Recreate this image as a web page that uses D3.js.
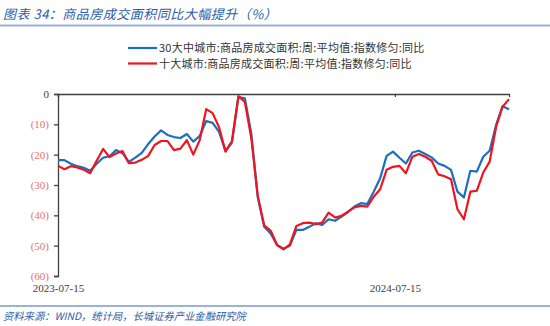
<!DOCTYPE html>
<html><head><meta charset="utf-8">
<script src="https://cdn.jsdelivr.net/npm/d3@7"></script>
<style>
body{margin:0;background:#fff;}
svg{display:block;}
</style></head>
<body><svg id="c" width="550" height="326"></svg>
<script>
const startDate = "2023-07-15";
const tickLabels = ["2023-07-15", "2024-07-15"];
const yTicks = [0, -10, -20, -30, -40, -50, -60];
const seriesNames = ["30大中城市:商品房成交面积:周:平均值:指数修匀:同比", "十大城市:商品房成交面积:周:平均值:指数修匀:同比"];
const blueValues = [-21.8,-21.8,-23,-23.8,-24.3,-25.3,-23,-21,-20.5,-18.5,-19.5,-22.4,-21,-19.4,-16.5,-14,-12,-13.5,-14.2,-14.5,-13.2,-15.7,-13.8,-8.9,-9.5,-12.5,-18.8,-16,-1,-1.4,-13,-34,-43.8,-46,-49.8,-51,-50,-44.8,-44.8,-43.8,-42.6,-43.2,-41.3,-41.8,-40.4,-39,-37.1,-36,-36.3,-32.2,-27.8,-20.4,-19,-21,-22.9,-19.3,-18.7,-19.8,-20.9,-22.9,-23.7,-25,-32.2,-34.1,-25.3,-25.6,-20.7,-18.7,-10.2,-4,-5];
const redValues = [-23.7,-24.8,-23.8,-24.2,-25,-26.1,-22,-18.1,-20.8,-19.6,-18.8,-22.8,-22.6,-21.7,-20.4,-16.8,-15.5,-15.5,-18.5,-18,-15.2,-20,-15.2,-5,-6.3,-11,-19,-15.5,-0.7,-2.6,-14.5,-33.5,-43.3,-45,-49.8,-51.2,-49.6,-43.5,-42.6,-42.4,-42.9,-42.4,-39.1,-40.7,-40.2,-38.8,-37.4,-36.9,-37.1,-33.9,-31.4,-25,-24,-23.7,-26.1,-20.7,-19.8,-20.7,-22,-26.5,-27.1,-28.1,-38,-41.3,-32.2,-31.9,-25.9,-22.3,-10.8,-4.2,-1.7];

const parse = d3.timeParse("%Y-%m-%d");
const fmt = d3.timeFormat("%Y-%m-%d");
const t0 = parse(startDate);
const dates = blueValues.map((_, i) => d3.timeDay.offset(t0, 7 * i));

const svg = d3.select("#c");
const serifFont = "'Liberation Serif','Noto Sans CJK SC',serif";
const cjkFont = "'Noto Sans CJK SC','Liberation Serif',sans-serif";

// title
svg.append("text").attr("x", 3).attr("y", 19)
  .attr("font-family", cjkFont).attr("font-size", 13).attr("font-style", "italic")
  .attr("letter-spacing", 0.5)
  .attr("fill", "#2a5caa")
  .text("图表 34：商品房成交面积同比大幅提升（%）");
svg.append("line").attr("x1", 0).attr("x2", 550).attr("y1", 25.5).attr("y2", 25.5)
  .attr("stroke", "#9bb3d6").attr("stroke-width", 2);

// footer
svg.append("line").attr("x1", 0).attr("x2", 550).attr("y1", 306).attr("y2", 306)
  .attr("stroke", "#9bb3d6").attr("stroke-width", 2);
svg.append("text").attr("x", 3).attr("y", 320)
  .attr("font-family", cjkFont).attr("font-size", 10.3).attr("font-style", "italic")
  .attr("fill", "#2a5caa")
  .text("资料来源：WIND，统计局，长城证券产业金融研究院");

const x = d3.scaleTime().domain([t0, dates[dates.length - 1]]).range([58, 509]);
const y = d3.scaleLinear().domain([-60, 0]).range([276, 94]);

// y axis
const yAxis = svg.append("g").attr("transform", "translate(58,0)")
  .call(d3.axisLeft(y).tickValues(yTicks).tickSize(4).tickPadding(5)
    .tickFormat(d => d < 0 ? "(" + Math.abs(d) + ")" : String(d)));
yAxis.select(".domain").attr("stroke", "#404040").attr("stroke-width", 1.3);
yAxis.selectAll(".tick line").attr("stroke", "#404040").attr("stroke-width", 1.3);
yAxis.selectAll(".tick text").attr("font-family", serifFont).attr("font-size", 11)
  .attr("fill", d => d < 0 ? "#e8706f" : "#404040");

// top axis line (y = 0)
const topAxis = svg.append("g").attr("transform", "translate(0," + y(0) + ")")
  .call(d3.axisBottom(x).tickValues(tickLabels.map(parse)).tickSize(3).tickFormat(""));
topAxis.select(".domain").attr("stroke", "#404040").attr("stroke-width", 1.3);
topAxis.selectAll(".tick line").attr("stroke", "#404040").attr("stroke-width", 1.3);

// bottom labels
const xAxis = svg.append("g").attr("transform", "translate(0,276)")
  .call(d3.axisBottom(x).tickValues(tickLabels.map(parse)).tickSize(0).tickPadding(8).tickFormat(fmt));
xAxis.select(".domain").remove();
xAxis.selectAll(".tick text").attr("font-family", serifFont).attr("font-size", 11).attr("fill", "#404040");

// lines
const line = d3.line().x((d, i) => x(dates[i])).y(d => y(d));
svg.append("path").datum(blueValues).attr("d", line)
  .attr("fill", "none").attr("stroke", "#1a6fc0").attr("stroke-width", 2.2).attr("stroke-linejoin", "round");
svg.append("path").datum(redValues).attr("d", line)
  .attr("fill", "none").attr("stroke", "#f0141e").attr("stroke-width", 2.2).attr("stroke-linejoin", "round");

// legend
const legend = [{name: seriesNames[0], color: "#1a6fc0", y: 48}, {name: seriesNames[1], color: "#f0141e", y: 63.5}];
legend.forEach(l => {
  svg.append("line").attr("x1", 128).attr("x2", 157).attr("y1", l.y).attr("y2", l.y)
    .attr("stroke", l.color).attr("stroke-width", 2.2);
  svg.append("text").attr("x", 159).attr("y", l.y + 4)
    .attr("font-family", cjkFont).attr("font-size", 11).attr("fill", "#333")
    .attr("letter-spacing", 0.25)
    .text(l.name);
});
</script></body></html>
